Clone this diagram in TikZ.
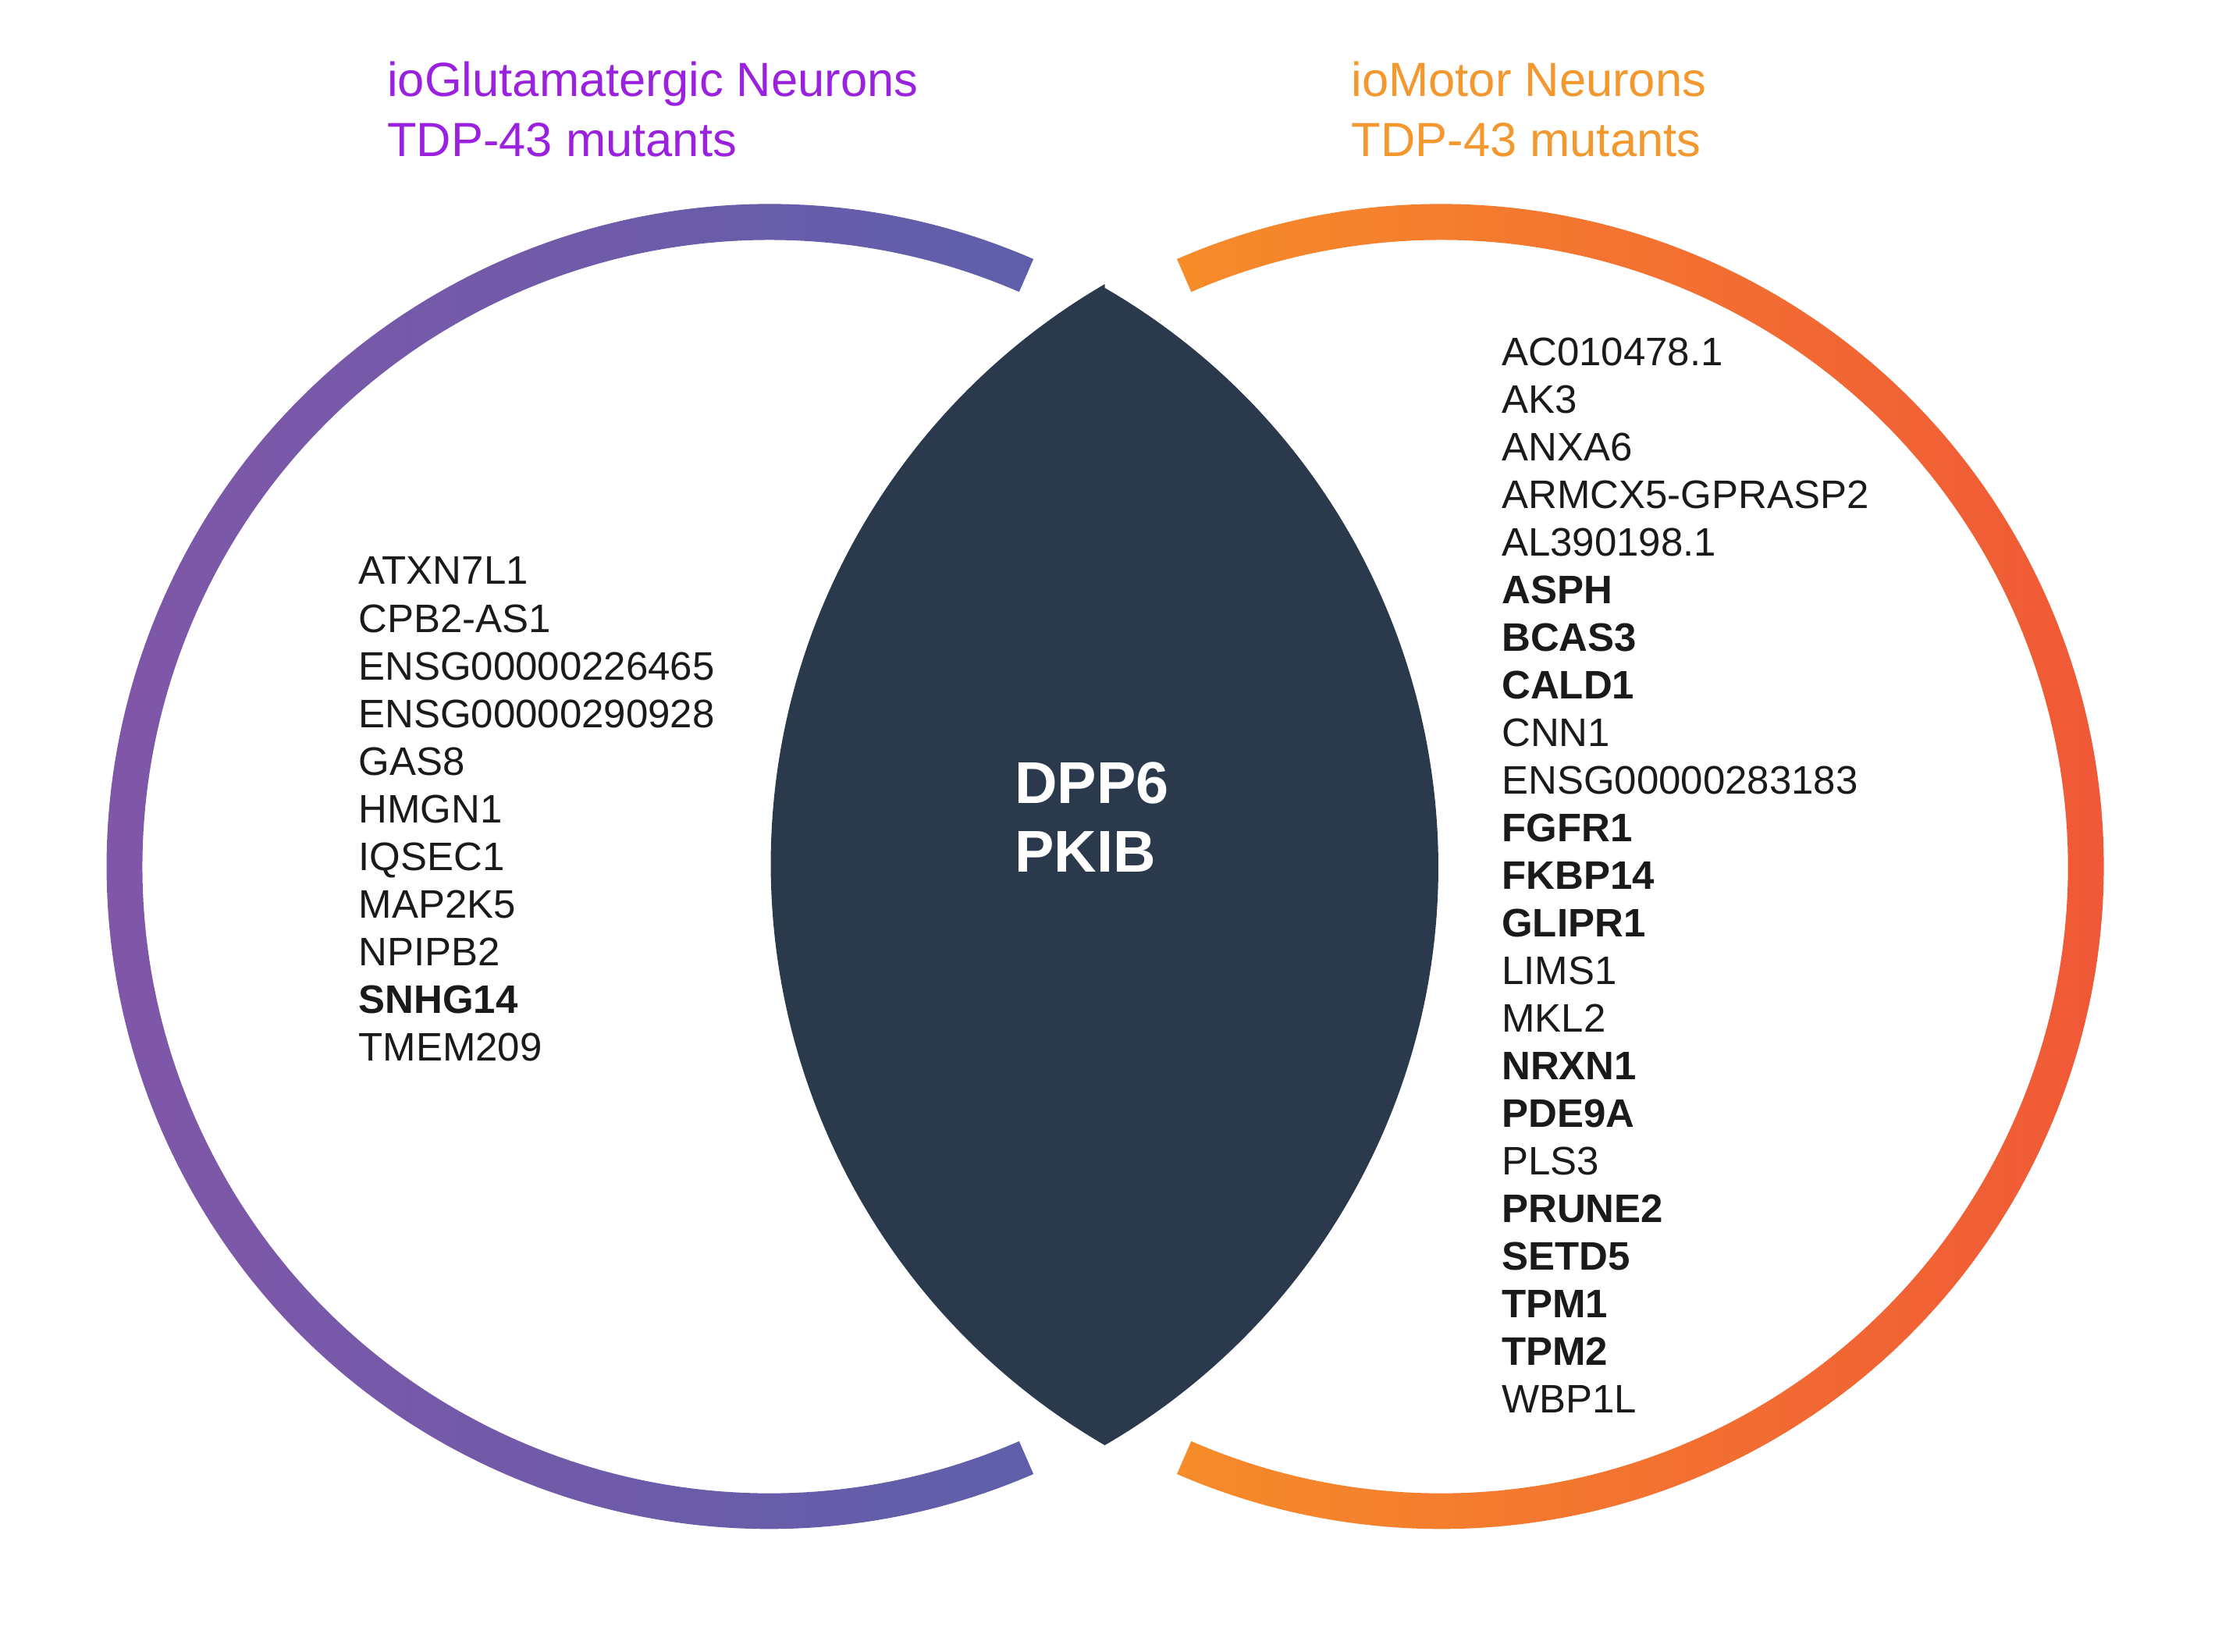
\documentclass[tikz,border=0pt]{standalone}
\usepackage{fontspec}
\setmainfont{Liberation Sans}
\definecolor{purpL}{HTML}{8456A8}
\definecolor{purpR}{HTML}{5E5FAA}
\definecolor{orgL}{HTML}{F68C2A}
\definecolor{orgR}{HTML}{EF5338}
\definecolor{lens}{HTML}{2B394C}
\definecolor{ttlP}{HTML}{9A22DF}
\definecolor{ttlO}{HTML}{F3972F}
\definecolor{gene}{HTML}{1A1A1A}
\begin{document}
\begin{tikzpicture}[x=0.018355cm,y=0.018355cm,
  gene/.style={anchor=mid west,inner sep=0pt,font=\fontsize{14.5pt}{17pt}\selectfont,text=gene},
  bgene/.style={gene,font=\fontsize{14.5pt}{17pt}\selectfont\bfseries},
  ttl/.style={anchor=mid west,inner sep=0pt,font=\fontsize{17.5pt}{21pt}\selectfont},
  ctr/.style={anchor=mid west,inner sep=0pt,text=white,font=\fontsize{21.5pt}{25pt}\selectfont\bfseries}]
\useasboundingbox (0,0) rectangle (1556,1153);
\coordinate (lc) at (537,548);
\coordinate (rc) at (1006,548);
% left ring
\shade[left color=purpL,right color=purpR]
  (lc) ++(66.5:462.5) arc[start angle=66.5,end angle=293.5,radius=462.5]
  -- ++(0,0) [shift={(lc)}] -- (293.5:437.5) arc[start angle=293.5,end angle=66.5,radius=437.5] -- cycle;
% right ring
\shade[left color=orgL,right color=orgR]
  (rc) ++(113.5:462.5) arc[start angle=113.5,end angle=-113.5,radius=462.5]
  [shift={(rc)}] -- (-113.5:437.5) arc[start angle=-113.5,end angle=113.5,radius=437.5] -- cycle;
% lens
\fill[lens] (lc) ++(59.9:467) arc[start angle=59.9,end angle=-59.9,radius=467]
  arc[start angle=239.8,end angle=120.2,radius=469] -- cycle;
\node[ctr] (c1) at (708,597) {DPP6};
\node[ctr] (c2) at (708,549) {PKIB};
\node[ttl,text=ttlP] (t1) at (270,1091) {ioGlutamatergic Neurons};
\node[ttl,text=ttlP] (t2) at (270,1049) {TDP-43 mutants};
\node[ttl,text=ttlO] (t3) at (943,1091) {ioMotor Neurons};
\node[ttl,text=ttlO] (t4) at (943,1049) {TDP-43 mutants};
\foreach \g [count=\i] in {ATXN7L1,CPB2-AS1,ENSG00000226465,ENSG00000290928,GAS8,HMGN1,IQSEC1,MAP2K5,NPIPB2,SNHG14,TMEM209}{
  \ifnum\i=10 \node[bgene] (l\i) at (250,{750-(\i-1)*33.25}) {\g};
  \else \node[gene] (l\i) at (250,{750-(\i-1)*33.25}) {\g}; \fi}
\foreach \g/\b [count=\i] in {AC010478.1/0,AK3/0,ANXA6/0,ARMCX5-GPRASP2/0,AL390198.1/0,ASPH/1,BCAS3/1,CALD1/1,CNN1/0,ENSG00000283183/0,FGFR1/1,FKBP14/1,GLIPR1/1,LIMS1/0,MKL2/0,NRXN1/1,PDE9A/1,PLS3/0,PRUNE2/1,SETD5/1,TPM1/1,TPM2/1,WBP1L/0}{
  \ifnum\b=1 \node[bgene] (r\i) at (1048,{903-(\i-1)*33.25}) {\g};
  \else \node[gene] (r\i) at (1048,{903-(\i-1)*33.25}) {\g}; \fi}
\end{tikzpicture}
\end{document}
